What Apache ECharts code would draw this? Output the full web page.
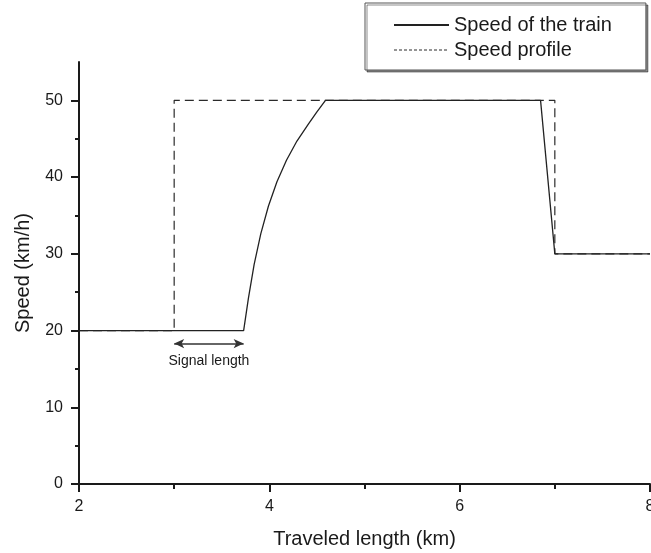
<!DOCTYPE html>
<html>
<head>
<meta charset="utf-8">
<script src="https://cdn.jsdelivr.net/npm/echarts@6/dist/echarts.min.js"></script>
<style>
html, body { margin: 0; padding: 0; background: #fff; }
#chart { width: 651px; height: 553px; }
</style>
</head>
<body>
<div id="chart"></div>
<script>
// train speed (km, km/h)
const trainX = [2, 3.73, 3.78, 3.84, 3.91, 3.99, 4.08, 4.18, 4.29, 4.41, 4.50, 4.59, 6.85, 7.0, 8];
const trainV = [20, 20, 24.2, 28.6, 32.6, 36.2, 39.4, 42.2, 44.7, 46.9, 48.5, 50, 50, 30, 30];
// speed profile (step shape)
const profileX = [2, 3, 3, 7, 7, 8];
const profileV = [20, 20, 50, 50, 30, 30];
// ticks
const xMajor = [2, 4, 6, 8];
const xMinor = [3, 5, 7];
const yMajor = [0, 10, 20, 30, 40, 50];
const yMinor = [5, 15, 25, 35, 45];
// signal length arrow
const signalStart = 3;
const signalEnd = 3.73;
const signalV = 18.3;

const font = "'Liberation Sans', Arial, sans-serif";
const ink = "#1a1a1a";

const chart = echarts.init(document.getElementById("chart"));

const trainData = trainX.map((x, i) => [x, trainV[i]]);
const profileData = profileX.map((x, i) => [x, profileV[i]]);

chart.setOption({
  animation: false,
  backgroundColor: "#fff",
  textStyle: { fontFamily: font },
  grid: { left: 79, right: 1, top: 62, bottom: 69, outerBoundsMode: "none", containLabel: false },
  legend: {
    orient: "vertical",
    left: 365,
    top: 3,
    padding: [12, 34, 10, 28],
    itemWidth: 55,
    itemHeight: 20,
    itemGap: 5,
    borderColor: "#555",
    borderWidth: 1,
    backgroundColor: "#fff",
    shadowColor: "rgba(0,0,0,0.45)",
    shadowOffsetX: 2,
    shadowOffsetY: 2,
    itemStyle: { opacity: 0 },
    textStyle: { fontFamily: font, fontSize: 20, color: ink },
    data: [
      { name: "Speed of the train" },
      { name: "Speed profile", lineStyle: { type: [3, 2], width: 1 } }
    ]
  },
  xAxis: [
    {
      type: "value",
      min: 2,
      max: 8,
      interval: 2,
      name: "Traveled length (km)",
      nameLocation: "middle",
      nameGap: 45,
      nameTextStyle: { fontFamily: font, fontSize: 20, color: ink },
      axisLine: { lineStyle: { color: ink, width: 2 } },
      axisTick: { length: 8, lineStyle: { color: ink, width: 2 }, customValues: xMajor },
      axisLabel: { fontFamily: font, fontSize: 16, color: ink, margin: 15, customValues: xMajor },
      splitLine: { show: false }
    },
    {
      type: "value",
      min: 2,
      max: 8,
      position: "bottom",
      axisLine: { show: false },
      axisTick: { length: 5, lineStyle: { color: ink, width: 2 }, customValues: xMinor },
      axisLabel: { show: false },
      splitLine: { show: false }
    }
  ],
  yAxis: [
    {
      type: "value",
      min: 0,
      max: 55,
      interval: 10,
      name: "Speed (km/h)",
      nameLocation: "middle",
      nameGap: 46,
      nameTextStyle: { fontFamily: font, fontSize: 20, color: ink },
      axisLine: { show: true, lineStyle: { color: ink, width: 2 } },
      axisTick: { show: true, length: 8, lineStyle: { color: ink, width: 2 }, customValues: yMajor },
      axisLabel: { fontFamily: font, fontSize: 16, color: ink, margin: 16, customValues: yMajor },
      splitLine: { show: false }
    },
    {
      type: "value",
      min: 0,
      max: 55,
      position: "left",
      axisLine: { show: false },
      axisTick: { show: true, length: 4, lineStyle: { color: ink, width: 2 }, customValues: yMinor },
      axisLabel: { show: false },
      splitLine: { show: false }
    }
  ],
  series: [
    {
      name: "Speed profile",
      type: "line",
      symbol: "none",
      data: profileData,
      lineStyle: { color: "#2a2a2a", width: 1.2, type: [9, 5] },
      itemStyle: { color: "#2a2a2a" },
      z: 2,
      markLine: {
        silent: true,
        symbol: ["arrow", "arrow"],
        symbolSize: [7, 10],
        lineStyle: { color: "#333", width: 1.5, type: "solid" },
        label: {
          show: true,
          position: "insideMiddleBottom",
          distance: 11,
          formatter: "Signal length",
          fontFamily: font,
          fontSize: 14,
          color: ink
        },
        data: [[{ coord: [signalStart, signalV] }, { coord: [signalEnd, signalV] }]]
      }
    },
    {
      name: "Speed of the train",
      type: "line",
      symbol: "none",
      data: trainData,
      lineStyle: { color: "#222", width: 1.3 },
      itemStyle: { color: "#222" },
      z: 3
    }
  ]
});
</script>
</body>
</html>
